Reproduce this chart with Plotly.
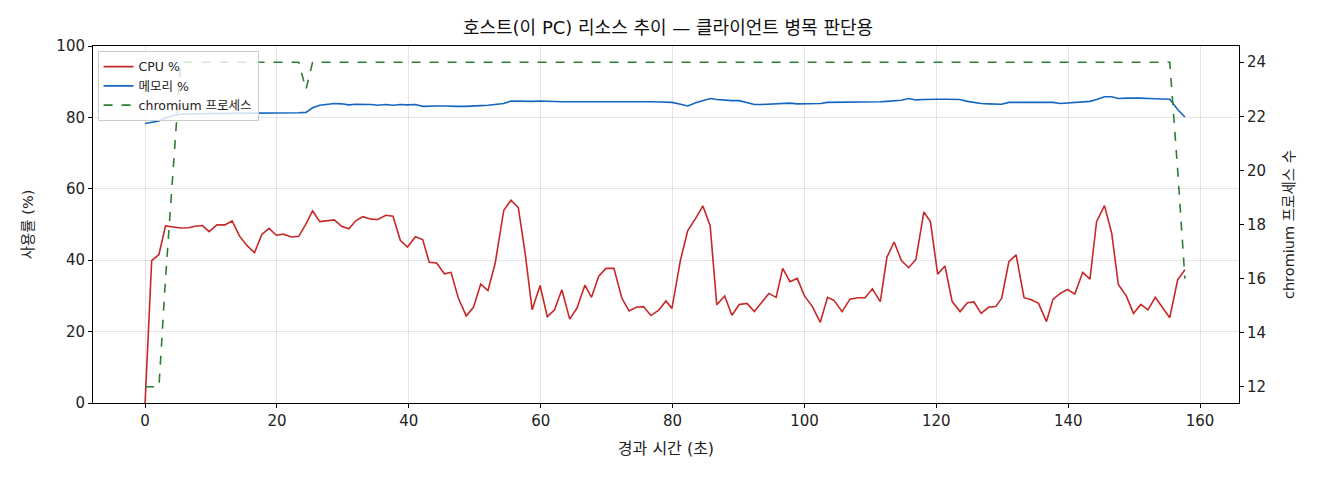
import plotly.graph_objects as go

# 경과 시간 (초)
elapsed = [
    0.0, 1.0, 2.1, 3.1, 4.3, 5.4, 6.6, 7.6, 8.7, 9.7,
    10.9, 12.1, 13.2, 14.3, 15.5, 16.6, 17.7, 18.8, 19.9, 21.0,
    22.2, 23.3, 24.4, 25.4, 26.5, 27.6, 28.7, 29.8, 30.9, 32.0,
    33.0, 34.3, 35.3, 36.5, 37.6, 38.7, 39.8, 41.0, 42.1, 43.1,
    44.2, 45.4, 46.4, 47.5, 48.7, 49.8, 50.9, 52.0, 53.1, 54.4,
    55.5, 56.6, 57.6, 58.7, 59.9, 61.0, 62.1, 63.2, 64.4, 65.5,
    66.7, 67.7, 68.8, 69.9, 71.1, 72.3, 73.4, 74.5, 75.6, 76.7,
    77.9, 79.0, 79.9, 81.2, 82.3, 83.5, 84.6, 85.7, 86.7, 87.9,
    89.0, 90.1, 91.3, 92.4, 93.4, 94.6, 95.7, 96.7, 97.8, 98.9,
    100.0, 101.2, 102.4, 103.5, 104.5, 105.7, 106.9, 108.1, 109.2, 110.3,
    111.5, 112.5, 113.6, 114.7, 115.8, 116.9, 118.1, 119.1, 120.2, 121.3,
    122.4, 123.6, 124.7, 125.7, 126.8, 127.9, 129.0, 129.9, 131.0, 132.1,
    133.3, 134.4, 135.5, 136.7, 137.7, 138.8, 139.9, 141.0, 142.2, 143.3,
    144.3, 145.5, 146.6, 147.6, 148.8, 149.9, 151.0, 152.1, 153.2, 154.3,
    155.4, 156.6, 157.7,
]

cpu_pct = [
    0.0, 39.9, 41.6, 49.6, 49.3, 49.0, 49.1, 49.5, 49.7, 48.0,
    49.9, 49.9, 51.0, 46.8, 44.0, 42.1, 47.2, 48.9, 47.0, 47.3,
    46.5, 46.7, 50.2, 53.8, 50.8, 51.1, 51.3, 49.5, 48.8, 51.1,
    52.2, 51.5, 51.4, 52.6, 52.3, 45.6, 43.7, 46.6, 45.8, 39.4,
    39.2, 36.2, 36.6, 29.4, 24.4, 26.8, 33.3, 31.5, 39.2, 54.0,
    56.8, 54.7, 42.5, 26.1, 32.9, 24.2, 26.1, 31.7, 23.5, 26.6,
    33.0, 29.6, 35.5, 37.7, 37.7, 29.4, 25.8, 26.8, 27.0, 24.5,
    26.0, 28.6, 26.5, 40.1, 48.3, 51.7, 55.2, 49.6, 27.5, 30.0,
    24.6, 27.6, 27.9, 25.6, 27.9, 30.7, 29.6, 37.7, 34.0, 34.9,
    30.0, 27.0, 22.6, 29.6, 28.7, 25.6, 29.1, 29.5, 29.5, 32.0,
    28.4, 40.8, 45.1, 39.9, 37.9, 40.2, 53.5, 50.8, 36.1, 38.4,
    28.4, 25.6, 28.1, 28.3, 25.1, 26.8, 27.0, 29.3, 39.6, 41.5,
    29.5, 28.9, 27.9, 22.8, 29.1, 30.7, 31.8, 30.5, 36.6, 34.7,
    50.8, 55.3, 47.5, 33.2, 30.0, 25.1, 27.6, 26.1, 29.6, 26.7,
    23.9, 34.5, 37.3,
]

mem_pct = [
    78.3, 78.6, 79.0, 79.8, 80.6, 80.9, 81.0, 81.0, 81.1, 81.1,
    81.1, 81.1, 81.2, 81.2, 81.2, 81.2, 81.3, 81.3, 81.3, 81.3,
    81.3, 81.3, 81.4, 82.7, 83.4, 83.7, 83.9, 83.8, 83.5, 83.7,
    83.7, 83.6, 83.4, 83.6, 83.4, 83.6, 83.5, 83.6, 83.1, 83.2,
    83.2, 83.2, 83.1, 83.1, 83.1, 83.1, 83.3, 83.4, 83.6, 83.9,
    84.6, 84.5, 84.4, 84.5, 84.6, 84.5, 84.5, 84.4, 84.4, 84.4,
    84.4, 84.5, 84.5, 84.6, 84.6, 84.6, 84.5, 84.5, 84.4, 84.4,
    84.3, 84.2, 84.2, 83.7, 83.2, 84.1, 84.6, 85.3, 85.0, 84.8,
    84.7, 84.7, 84.1, 83.6, 83.6, 83.7, 83.8, 84.0, 84.0, 83.8,
    83.8, 83.8, 83.9, 84.2, 84.2, 84.2, 84.2, 84.2, 84.2, 84.3,
    84.4, 84.5, 84.6, 84.8, 85.3, 84.9, 85.0, 85.1, 85.1, 85.1,
    85.1, 85.0, 84.5, 84.2, 83.9, 83.8, 83.7, 83.7, 84.2, 84.2,
    84.2, 84.1, 84.0, 84.0, 84.2, 83.9, 84.0, 84.1, 84.2, 84.5,
    85.0, 85.8, 85.8, 85.3, 85.4, 85.5, 85.4, 85.3, 85.2, 85.2,
    85.1, 82.2, 80.1,
]

chromium_count = [12, 12, 12, 16, 20] + [24] * 17 + [23] + [24] * 118 + [20, 16]

# 라틴 문자는 DejaVu(넓은 글꼴), 한글은 Noto CJK 로 대체
FONT = "DejaVu Sans, Noto Sans CJK KR, sans-serif"

fig = go.Figure()

fig.add_trace(go.Scatter(
    x=elapsed, y=cpu_pct, mode="lines", name="CPU %",
    line=dict(color="#c62828", width=1.6),
))
fig.add_trace(go.Scatter(
    x=elapsed, y=mem_pct, mode="lines", name="메모리 %",
    line=dict(color="#1565c0", width=1.6),
))
fig.add_trace(go.Scatter(
    x=elapsed, y=chromium_count, mode="lines", name="chromium 프로세스",
    line=dict(color="#2e7d32", width=1.6, dash="dash"),
    yaxis="y2",
))

axis_common = dict(
    showline=True, linecolor="black", linewidth=1,
    ticks="outside", ticklen=4, tickcolor="black",
    tickfont=dict(size=15, color="#222", family=FONT),
    zeroline=False,
)

# 페이지 body 여백(8px)만큼 보정한 여백
fig.update_layout(
    width=1320, height=480,
    margin=dict(l=85, r=89, t=38, b=85),
    paper_bgcolor="white", plot_bgcolor="white",
    font=dict(family=FONT, color="#222"),
    title=dict(
        text="호스트(이 PC) 리소스 추이 — 클라이언트 병목 판단용",
        x=0.5, xanchor="center", y=0.958, yanchor="middle",
        font=dict(size=18, color="#111", family=FONT),
    ),
    xaxis=dict(
        range=[-7.9, 165.9], dtick=20, mirror=True,
        showgrid=True, gridcolor="rgba(0,0,0,0.1)",
        title=dict(text="경과 시간 (초)", font=dict(size=16, family=FONT), standoff=13),
        **axis_common,
    ),
    yaxis=dict(
        range=[0, 100], dtick=20, mirror=True,
        showgrid=True, gridcolor="rgba(0,0,0,0.1)",
        title=dict(text="사용률 (%)", font=dict(size=14.5, family=FONT), standoff=19),
        **axis_common,
    ),
    yaxis2=dict(
        range=[11.4, 24.6], dtick=2, overlaying="y", side="right",
        showgrid=False,
        title=dict(text="chromium 프로세스 수", font=dict(size=14.5, family=FONT), standoff=18),
        **axis_common,
    ),
    legend=dict(
        x=0.004, y=0.986, xanchor="left", yanchor="top",
        bgcolor="rgba(255,255,255,0.8)", bordercolor="#cccccc", borderwidth=1,
        font=dict(size=12.5, family=FONT, color="#222"),
    ),
    showlegend=True,
)

fig.write_html("out.html")
